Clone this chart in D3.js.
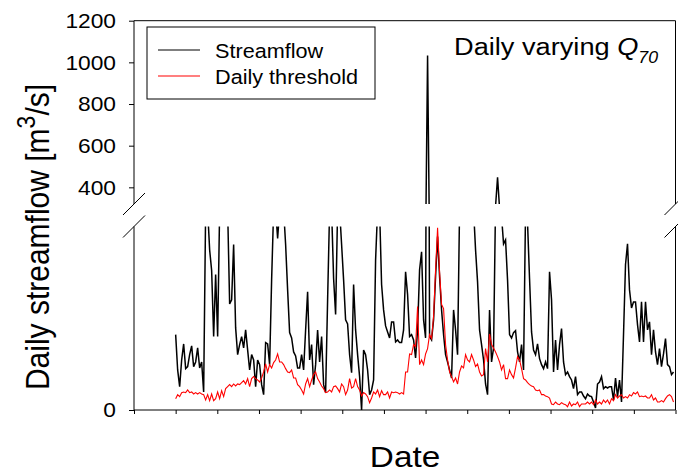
<!DOCTYPE html>
<html>
<head>
<meta charset="utf-8">
<script src="https://cdn.jsdelivr.net/npm/d3@7"></script>
<style>
  body { margin: 0; background: #fff; }
  svg { display: block; }
  text { font-family: Arial, "Liberation Sans", sans-serif; fill: #000; }
</style>
</head>
<body>
<svg id="chart" width="678" height="473"></svg>
<script>
// Daily streamflow [m3/s], sampled evenly from the first to the last month tick
const streamflow = [
  113, 60, 35, 75, 99, 62, 65, 83, 96, 65,
  72, 93, 63, 72, 27, 300, 300, 240, 209, 110,
  203, 110, 300, 300, 300, 300, 300, 159, 165, 248,
  123, 83, 98, 110, 93, 120, 90, 60, 83, 75,
  35, 75, 68, 38, 23, 101, 99, 68, 195, 300,
  300, 257, 300, 300, 300, 248, 180, 116, 108, 87,
  81, 63, 63, 83, 60, 120, 177, 75, 98, 38,
  68, 120, 72, 110, 38, 26, 165, 300, 300, 197,
  143, 300, 300, 248, 195, 135, 129, 83, 56, 188,
  120, 83, 50, 0, 90, 83, 60, 23, 30, 45,
  225, 300, 300, 188, 150, 126, 117, 108, 132, 132,
  102, 105, 101, 101, 120, 207, 173, 110, 113, 105,
  78, 120, 210, 237, 135, 108, 1033, 110, 105, 135,
  200, 260, 200, 150, 113, 83, 72, 60, 48, 150,
  120, 83, 300, 300, 300, 300, 300, 300, 300, 300,
  240, 192, 120, 98, 75, 39, 23, 150, 72, 93,
  310, 448, 300, 290, 249, 255, 195, 113, 108, 116,
  119, 87, 72, 98, 60, 300, 280, 197, 117, 90,
  83, 99, 77, 68, 62, 72, 62, 207, 165, 57,
  105, 60, 98, 122, 72, 53, 57, 50, 45, 32,
  50, 23, 27, 27, 21, 17, 24, 21, 20, 12,
  3, 39, 42, 50, 32, 35, 33, 35, 35, 15,
  48, 20, 45, 12, 113, 218, 249, 180, 153, 162,
  162, 128, 102, 162, 102, 162, 120, 132, 83, 120,
  87, 68, 92, 65, 84, 107, 68, 65, 53, 57
];

// Daily varying Q70 threshold [m3/s], same days as streamflow
const threshold = [
  17, 23, 20, 26, 27, 26, 30, 26, 27, 24,
  26, 24, 26, 24, 23, 15, 23, 14, 24, 14,
  17, 27, 17, 29, 20, 32, 35, 38, 35, 39,
  36, 39, 38, 41, 44, 39, 47, 35, 47, 50,
  47, 45, 42, 48, 57, 69, 57, 68, 63, 71,
  75, 84, 72, 72, 68, 62, 57, 56, 60, 48,
  48, 38, 35, 30, 24, 39, 47, 35, 45, 53,
  57, 47, 42, 36, 32, 26, 27, 30, 27, 35,
  36, 32, 27, 39, 35, 23, 30, 47, 33, 35,
  47, 35, 30, 21, 26, 24, 20, 11, 18, 27,
  24, 30, 20, 29, 23, 23, 27, 18, 27, 26,
  27, 26, 24, 26, 24, 57, 57, 84, 83, 98,
  95, 155, 68, 75, 68, 84, 92, 113, 107, 140,
  210, 273, 207, 158, 152, 98, 75, 57, 50, 42,
  48, 39, 57, 66, 63, 83, 75, 72, 83, 75,
  65, 69, 57, 51, 53, 92, 72, 114, 98, 93,
  87, 80, 72, 60, 68, 47, 47, 60, 53, 48,
  63, 80, 75, 62, 47, 45, 41, 38, 36, 35,
  30, 29, 30, 23, 23, 21, 20, 18, 9, 8,
  12, 9, 8, 11, 9, 8, 5, 12, 6, 9,
  8, 12, 5, 9, 9, 9, 12, 9, 12, 8,
  15, 9, 12, 9, 15, 11, 15, 9, 17, 14,
  23, 18, 21, 23, 18, 20, 18, 23, 21, 26,
  24, 27, 20, 21, 20, 21, 18, 18, 23, 15,
  18, 12, 12, 14, 12, 17, 21, 23, 20, 12
];

const upperTicks = [400, 600, 800, 1000, 1200];
const lowerTicks = [0];
const monthTicks = d3.range(0, 14);
const firstMonth = 1, lastMonth = 13;

// layout
const left = 134, right = 675.5, bottom = 410;
const upperTop = 20.7, upperBottom = 204, lowerTop = 226.5;
const stretch = 1.11;   // horizontal text widening

const svg = d3.select("#chart");

const x = d3.scaleLinear().domain([0, 13]).range([left, right]);
const yUp = d3.scaleLinear().domain([320, 1200]).range([upperBottom, upperTop]);
const yLo = d3.scaleLinear().domain([0, 275]).range([bottom, lowerTop]);
const tOf = i => firstMonth + i * (lastMonth - firstMonth) / streamflow.length;

// clip regions for the two broken-axis panels
const defs = svg.append("defs");
defs.append("clipPath").attr("id", "clipUp").append("rect")
  .attr("x", left).attr("y", upperTop).attr("width", right - left).attr("height", upperBottom - upperTop);
defs.append("clipPath").attr("id", "clipLo").append("rect")
  .attr("x", left).attr("y", lowerTop).attr("width", right - left).attr("height", bottom - lowerTop);

function drawSeries(yScale, clipId) {
  const g = svg.append("g").attr("clip-path", `url(#${clipId})`);
  const line = d3.line().x((d, i) => x(tOf(i))).y(d => yScale(d));
  g.append("path").datum(streamflow).attr("d", line)
    .attr("fill", "none").attr("stroke", "#000").attr("stroke-width", 1.5);
  g.append("path").datum(threshold).attr("d", line)
    .attr("fill", "none").attr("stroke", "#ff0000").attr("stroke-width", 1.1);
}
drawSeries(yLo, "clipLo");
drawSeries(yUp, "clipUp");

// frames
svg.append("path")
  .attr("d", `M${left},${upperBottom}V${upperTop}H${right}V${upperBottom}`)
  .attr("fill", "none").attr("stroke", "#000").attr("stroke-width", 1);
svg.append("path")
  .attr("d", `M${left},${lowerTop}V${bottom}H${right}V${lowerTop}`)
  .attr("fill", "none").attr("stroke", "#000").attr("stroke-width", 1);

// axis break marks
[left, right].forEach(xc => {
  [upperBottom, lowerTop].forEach(yc => {
    svg.append("line")
      .attr("x1", xc - 11).attr("y1", yc + 11).attr("x2", xc + 11).attr("y2", yc - 11)
      .attr("stroke", "#000").attr("stroke-width", 1);
  });
});

// y ticks
function yAxis(scale, ticks) {
  const g = svg.append("g").attr("transform", `translate(${left},0)`)
    .call(d3.axisLeft(scale).tickValues(ticks).tickSize(5).tickSizeOuter(0).tickFormat(""));
  g.select(".domain").remove();
  g.selectAll("line").attr("stroke", "#000");
  ticks.forEach(v => {
    svg.append("text")
      .attr("transform", `translate(116,${scale(v) + 7.4}) scale(${stretch},1)`)
      .attr("text-anchor", "end").attr("font-size", 20.5).text(v);
  });
}
yAxis(yUp, upperTicks);
yAxis(yLo, lowerTicks);

// x ticks (no labels)
const gx = svg.append("g").attr("transform", `translate(0,${bottom})`)
  .call(d3.axisBottom(x).tickValues(monthTicks).tickSize(4).tickSizeOuter(0).tickFormat(""));
gx.select(".domain").remove();
gx.selectAll("line").attr("stroke", "#000");

// axis titles
svg.append("text")
  .attr("transform", `translate(405,467) scale(${stretch},1)`)
  .attr("text-anchor", "middle").attr("font-size", 30).text("Date");

const yl = svg.append("text")
  .attr("transform", `translate(49,237) scale(${stretch},1) rotate(-90)`)
  .attr("text-anchor", "middle").attr("font-size", 30);
yl.append("tspan").text("Daily streamflow [m");
yl.append("tspan").attr("font-size", 23).attr("dy", -13).text("3");
yl.append("tspan").attr("dy", 13).text("/s]");

// panel title
const title = svg.append("text")
  .attr("transform", `translate(454,55) scale(${stretch},1)`)
  .attr("font-size", 24.5);
title.append("tspan").text("Daily varying ");
title.append("tspan").attr("font-style", "italic").text("Q");
title.append("tspan").attr("font-style", "italic").attr("font-size", 16).attr("dy", 8).text("70");

// legend
const legend = svg.append("g");
legend.append("rect").attr("x", 147).attr("y", 27).attr("width", 228).attr("height", 72)
  .attr("fill", "#fff").attr("stroke", "#000").attr("stroke-width", 1);
const legendItems = [
  { label: "Streamflow", color: "#000", y: 50 },
  { label: "Daily threshold", color: "#ff0000", y: 76 }
];
legendItems.forEach(d => {
  legend.append("line").attr("x1", 158).attr("x2", 200).attr("y1", d.y).attr("y2", d.y)
    .attr("stroke", d.color).attr("stroke-width", 1.2);
  legend.append("text")
    .attr("transform", `translate(215,${d.y + 7.5}) scale(${stretch},1)`)
    .attr("font-size", 19.5).text(d.label);
});
</script>
</body>
</html>
